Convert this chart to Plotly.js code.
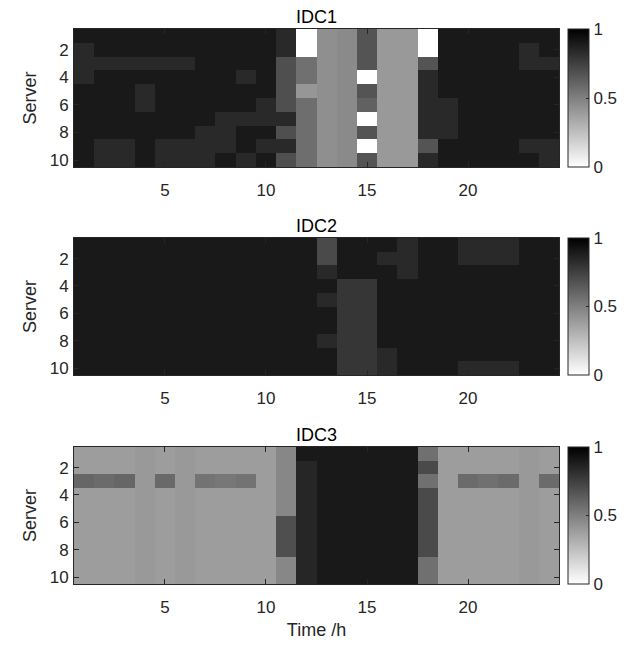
<!DOCTYPE html>
<html>
<head>
<meta charset="utf-8">
<script src="https://cdn.plot.ly/plotly-3.0.1.min.js"></script>
<style>
  html, body { margin: 0; padding: 0; background: #ffffff; }
  #chart { width: 639px; height: 648px; }
</style>
</head>
<body>
<div id="chart"></div>
<script>
// Hours (columns) and servers (rows)
const hours = [1,2,3,4,5,6,7,8,9,10,11,12,13,14,15,16,17,18,19,20,21,22,23,24];
const servers = [1,2,3,4,5,6,7,8,9,10];
const panelTitles = ['IDC1', 'IDC2', 'IDC3'];
const xTickVals = [5, 10, 15, 20];
const yTickVals = [2, 4, 6, 8, 10];
const cbTickVals = [0, 0.5, 1];
const cbTickText = ['0', '0.5', '1'];

// IDC1 utilisation (rows = servers 1..10, cols = hours 1..24)
const idc1 = [
  [0.90,0.90,0.90,0.90,0.90,0.90,0.90,0.90,0.90,0.90,0.84,0.00,0.44,0.46,0.67,0.40,0.40,0.00,0.90,0.90,0.90,0.90,0.90,0.90],
  [0.84,0.90,0.90,0.90,0.90,0.90,0.90,0.90,0.90,0.90,0.84,0.00,0.44,0.46,0.67,0.40,0.40,0.00,0.90,0.90,0.90,0.90,0.84,0.90],
  [0.84,0.84,0.84,0.84,0.84,0.84,0.90,0.90,0.90,0.90,0.69,0.56,0.44,0.46,0.67,0.40,0.40,0.67,0.90,0.90,0.90,0.90,0.84,0.84],
  [0.84,0.90,0.90,0.90,0.90,0.90,0.90,0.90,0.84,0.90,0.69,0.56,0.44,0.46,0.00,0.40,0.40,0.84,0.90,0.90,0.90,0.90,0.90,0.90],
  [0.90,0.90,0.90,0.84,0.90,0.90,0.90,0.90,0.90,0.90,0.69,0.41,0.44,0.46,0.67,0.40,0.40,0.84,0.90,0.90,0.90,0.90,0.90,0.90],
  [0.90,0.90,0.90,0.84,0.90,0.90,0.90,0.90,0.90,0.84,0.69,0.57,0.44,0.46,0.62,0.40,0.40,0.84,0.84,0.90,0.90,0.90,0.90,0.90],
  [0.90,0.90,0.90,0.90,0.90,0.90,0.90,0.84,0.84,0.84,0.84,0.57,0.44,0.46,0.00,0.40,0.40,0.84,0.84,0.90,0.90,0.90,0.90,0.90],
  [0.90,0.90,0.90,0.90,0.90,0.90,0.84,0.84,0.90,0.90,0.69,0.57,0.44,0.46,0.67,0.40,0.40,0.84,0.84,0.90,0.90,0.90,0.90,0.90],
  [0.90,0.84,0.84,0.90,0.84,0.84,0.84,0.84,0.90,0.84,0.84,0.57,0.44,0.46,0.00,0.40,0.40,0.67,0.90,0.90,0.90,0.90,0.84,0.84],
  [0.90,0.84,0.84,0.90,0.84,0.84,0.84,0.90,0.84,0.90,0.69,0.57,0.44,0.46,0.67,0.40,0.40,0.84,0.90,0.90,0.90,0.90,0.90,0.84]
];

// IDC2 utilisation
const idc2 = [
  [0.90,0.90,0.90,0.90,0.90,0.90,0.90,0.90,0.90,0.90,0.90,0.90,0.71,0.90,0.90,0.90,0.84,0.90,0.90,0.84,0.84,0.84,0.90,0.90],
  [0.90,0.90,0.90,0.90,0.90,0.90,0.90,0.90,0.90,0.90,0.90,0.90,0.71,0.90,0.90,0.84,0.84,0.90,0.90,0.84,0.84,0.84,0.90,0.90],
  [0.90,0.90,0.90,0.90,0.90,0.90,0.90,0.90,0.90,0.90,0.90,0.90,0.84,0.90,0.90,0.90,0.84,0.90,0.90,0.90,0.90,0.90,0.90,0.90],
  [0.90,0.90,0.90,0.90,0.90,0.90,0.90,0.90,0.90,0.90,0.90,0.90,0.90,0.79,0.79,0.90,0.90,0.90,0.90,0.90,0.90,0.90,0.90,0.90],
  [0.90,0.90,0.90,0.90,0.90,0.90,0.90,0.90,0.90,0.90,0.90,0.90,0.84,0.79,0.79,0.90,0.90,0.90,0.90,0.90,0.90,0.90,0.90,0.90],
  [0.90,0.90,0.90,0.90,0.90,0.90,0.90,0.90,0.90,0.90,0.90,0.90,0.90,0.79,0.79,0.90,0.90,0.90,0.90,0.90,0.90,0.90,0.90,0.90],
  [0.90,0.90,0.90,0.90,0.90,0.90,0.90,0.90,0.90,0.90,0.90,0.90,0.90,0.79,0.79,0.90,0.90,0.90,0.90,0.90,0.90,0.90,0.90,0.90],
  [0.90,0.90,0.90,0.90,0.90,0.90,0.90,0.90,0.90,0.90,0.90,0.90,0.84,0.79,0.79,0.90,0.90,0.90,0.90,0.90,0.90,0.90,0.90,0.90],
  [0.90,0.90,0.90,0.90,0.90,0.90,0.90,0.90,0.90,0.90,0.90,0.90,0.90,0.79,0.79,0.84,0.90,0.90,0.90,0.90,0.90,0.90,0.90,0.90],
  [0.90,0.90,0.90,0.90,0.90,0.90,0.90,0.90,0.90,0.90,0.90,0.90,0.90,0.79,0.79,0.84,0.90,0.90,0.90,0.84,0.84,0.84,0.90,0.90]
];

// IDC3 utilisation
const idc3 = [
  [0.385,0.385,0.385,0.40,0.385,0.40,0.385,0.385,0.385,0.385,0.47,0.90,0.90,0.90,0.90,0.90,0.90,0.56,0.385,0.385,0.385,0.385,0.40,0.385],
  [0.385,0.385,0.385,0.40,0.385,0.40,0.385,0.385,0.385,0.385,0.47,0.85,0.90,0.90,0.90,0.90,0.90,0.71,0.385,0.385,0.385,0.385,0.40,0.385],
  [0.60,0.58,0.60,0.40,0.59,0.40,0.55,0.535,0.55,0.385,0.47,0.85,0.90,0.90,0.90,0.90,0.90,0.56,0.385,0.58,0.56,0.58,0.40,0.58],
  [0.385,0.385,0.385,0.40,0.385,0.40,0.385,0.385,0.385,0.385,0.47,0.85,0.90,0.90,0.90,0.90,0.90,0.71,0.385,0.385,0.385,0.385,0.40,0.385],
  [0.385,0.385,0.385,0.40,0.385,0.40,0.385,0.385,0.385,0.385,0.47,0.85,0.90,0.90,0.90,0.90,0.90,0.71,0.385,0.385,0.385,0.385,0.40,0.385],
  [0.385,0.385,0.385,0.40,0.385,0.40,0.385,0.385,0.385,0.385,0.69,0.85,0.90,0.90,0.90,0.90,0.90,0.71,0.385,0.385,0.385,0.385,0.40,0.385],
  [0.385,0.385,0.385,0.40,0.385,0.40,0.385,0.385,0.385,0.385,0.69,0.85,0.90,0.90,0.90,0.90,0.90,0.71,0.385,0.385,0.385,0.385,0.40,0.385],
  [0.385,0.385,0.385,0.40,0.385,0.40,0.385,0.385,0.385,0.385,0.69,0.85,0.90,0.90,0.90,0.90,0.90,0.71,0.385,0.385,0.385,0.385,0.40,0.385],
  [0.385,0.385,0.385,0.40,0.385,0.40,0.385,0.385,0.385,0.385,0.47,0.85,0.90,0.90,0.90,0.90,0.90,0.56,0.385,0.385,0.385,0.385,0.40,0.385],
  [0.385,0.385,0.385,0.40,0.385,0.40,0.385,0.385,0.385,0.385,0.47,0.85,0.90,0.90,0.90,0.90,0.90,0.56,0.385,0.385,0.385,0.385,0.40,0.385]
];

const W = 639, H = 648;
const FONT = 'Liberation Sans, Arial, Helvetica, sans-serif';
const AX = '#262626';
const plotLeft = 74, plotRight = 559;
const panels = [
  {data: idc1, top: 29, bottom: 167},
  {data: idc2, top: 238, bottom: 375},
  {data: idc3, top: 447, bottom: 584}
];
const cbLeft = 568, cbWidth = 21;
const TICK = 17, LABEL = 18;

const traces = [];
const layout = {
  width: W, height: H,
  margin: {l: 0, r: 0, t: 0, b: 0, pad: 0},
  paper_bgcolor: '#ffffff', plot_bgcolor: '#ffffff',
  font: {family: FONT, size: TICK, color: AX},
  showlegend: false,
  annotations: []
};

panels.forEach((p, i) => {
  const n = i === 0 ? '' : String(i + 1);
  const y0 = (H - p.bottom) / H, y1 = (H - p.top) / H;
  traces.push({
    type: 'heatmap',
    x: hours, y: servers, z: p.data,
    xaxis: 'x' + n, yaxis: 'y' + n,
    zmin: 0, zmax: 1,
    colorscale: [[0, '#ffffff'], [1, '#000000']],
    showscale: true,
    xgap: 0, ygap: 0,
    colorbar: {
      x: cbLeft / W, xanchor: 'left', xref: 'paper',
      y: y0, yanchor: 'bottom', yref: 'paper',
      len: y1 - y0, lenmode: 'fraction',
      thickness: cbWidth, thicknessmode: 'pixels',
      xpad: 0, ypad: 0,
      outlinewidth: 1, outlinecolor: AX,
      tickmode: 'array', tickvals: cbTickVals, ticktext: cbTickText,
      ticks: 'inside', ticklen: 3, tickcolor: AX,
      ticklabelposition: 'outside',
      tickfont: {family: FONT, size: TICK, color: AX}
    }
  });
  const xa = {
    domain: [plotLeft / W, plotRight / W],
    anchor: 'y' + n,
    range: [0.5, 24.5],
    tickmode: 'array', tickvals: xTickVals,
    ticks: 'inside', ticklen: 5, tickcolor: AX,
    ticklabelstandoff: 8,
    showline: true, linecolor: AX, linewidth: 1, mirror: 'ticks',
    showgrid: false, zeroline: false,
    tickfont: {family: FONT, size: TICK, color: AX}
  };
  if (i === 2) {
    xa.title = {text: 'Time /h', font: {family: FONT, size: LABEL, color: AX}, standoff: 6};
  }
  const ya = {
    domain: [y0, y1],
    anchor: 'x' + n,
    range: [10.5, 0.5],
    tickmode: 'array', tickvals: yTickVals,
    ticks: 'inside', ticklen: 5, tickcolor: AX,
    ticklabelstandoff: 1,
    showline: true, linecolor: AX, linewidth: 1, mirror: 'ticks',
    showgrid: false, zeroline: false,
    tickfont: {family: FONT, size: TICK, color: AX},
    title: {text: 'Server', font: {family: FONT, size: LABEL, color: AX}, standoff: 8}
  };
  layout['xaxis' + n] = xa;
  layout['yaxis' + n] = ya;
  layout.annotations.push({
    text: panelTitles[i],
    xref: 'paper', yref: 'paper',
    x: (plotLeft + plotRight) / 2 / W, y: y1,
    xanchor: 'center', yanchor: 'bottom',
    yshift: 0,
    showarrow: false,
    font: {family: FONT, size: LABEL, color: '#000000'}
  });
});

Plotly.newPlot('chart', traces, layout, {displayModeBar: false, staticPlot: true});
</script>
</body>
</html>
